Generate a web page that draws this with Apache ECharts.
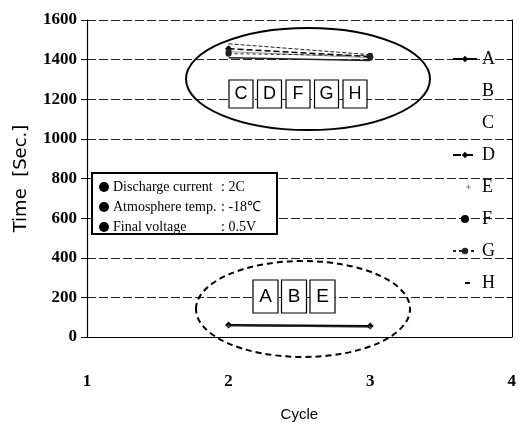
<!DOCTYPE html>
<html><head><meta charset="utf-8">
<script src="https://cdn.jsdelivr.net/npm/echarts@6/dist/echarts.min.js"></script>
<style>html,body{margin:0;padding:0;background:#fff}#c{width:519px;height:427px}</style>
</head><body><div id="c"></div>
<script>
// ---- data ----
const cycles = [2, 3];
const seriesNames = ['A','B','C','D','E','F','G','H'];
const valA = [60, 55];
const valB = [58, 52];
const valC = [1480, 1425];
const valD = [1455, 1415];
const valE = [56, 50];
const valF = [1440, 1410];
const valG = [1430, 1420];
const valH = [1410, 1395];
const yTicks = [0, 200, 400, 600, 800, 1000, 1200, 1400, 1600];
const xTicks = [1, 2, 3, 4];
const upperBoxes = ['C','D','F','G','H'];
const lowerBoxes = ['A','B','E'];
const conditions = [
  ['Discharge current', ': 2C'],
  ['Atmosphere temp.', ': -18℃'],
  ['Final voltage', ': 0.5V']
];

const values = {A: valA, B: valB, C: valC, D: valD, E: valE, F: valF, G: valG, H: valH};
const styles = {
  A: {line: {color:'#000', width:2, type:'solid'}, symbol:'diamond', size:7},
  B: {line: {color:'#111', width:1.5, type:'solid'}, symbol:'none', size:0},
  C: {line: {color:'#222', width:1, type:'dashed'}, symbol:'none', size:0},
  D: {line: {color:'#000', width:1.5, type:'dashed'}, symbol:'diamond', size:7},
  E: {line: {color:'#444', width:1, type:'dotted'}, symbol:'circle', size:3},
  F: {line: {color:'#222', width:1, type:'dotted'}, symbol:'circle', size:6},
  G: {line: {color:'#222', width:1, type:[3,3]}, symbol:'circle', size:6},
  H: {line: {color:'#222', width:1.5, type:'solid'}, symbol:'none', size:0}
};

const series = seriesNames.map(n => ({
  name: n, type: 'line',
  data: cycles.map((c, i) => [c, values[n][i]]),
  symbol: styles[n].symbol, symbolSize: styles[n].size,
  itemStyle: {color: styles[n].line.color},
  lineStyle: styles[n].line,
  animation: false
}));

// small icons padded to the full legend box with tiny corner dots
const pad = 'M0,0 L0.05,0 L0.05,0.05 Z M24,8 L24.05,8 L24.05,8.05 Z ';
const legendData = seriesNames.map(n => {
  const d = {name: n};
  if (n === 'B' || n === 'C') { d.itemStyle = {opacity: 0}; d.lineStyle = {opacity: 0}; }
  if (n === 'E') { d.icon = 'path://' + pad + 'M13,3.5 L18,3.5 L18,4.5 L13,4.5 Z M15,1.5 L16,1.5 L16,6.5 L15,6.5 Z'; d.itemStyle = {color:'#888'}; }
  if (n === 'F') { d.icon = 'circle'; d.itemStyle = {color:'#000'}; }
  if (n === 'H') { d.icon = 'path://' + pad + 'M12,3 L17,3 L17,5 L12,5 Z'; d.itemStyle = {color:'#000'}; }
  return d;
});

// graphics (annotations)
const graphics = [];
graphics.push({type:'ellipse', shape:{cx:308, cy:79, rx:122, ry:51}, style:{fill:'none', stroke:'#000', lineWidth:2}, z:10});
graphics.push({type:'ellipse', shape:{cx:303, cy:309, rx:107, ry:48}, style:{fill:'none', stroke:'#000', lineWidth:2, lineDash:[6,4]}, z:10});
upperBoxes.forEach((t, i) => {
  const x = 229 + i * 28.5;
  graphics.push({type:'rect', shape:{x:x, y:80, width:24, height:28}, style:{fill:'#fff', stroke:'#000', lineWidth:1.2}, z:11});
  graphics.push({type:'text', x:x+12, y:94, style:{text:t, font:'18px "Liberation Sans", Arial, sans-serif', fill:'#000', align:'center', verticalAlign:'middle'}, z:12});
});
lowerBoxes.forEach((t, i) => {
  const x = 253 + i * 28.5;
  graphics.push({type:'rect', shape:{x:x, y:280, width:25, height:33}, style:{fill:'#fff', stroke:'#000', lineWidth:1.2}, z:11});
  graphics.push({type:'text', x:x+12.5, y:297, style:{text:t, font:'19px "Liberation Sans", Arial, sans-serif', fill:'#000', align:'center', verticalAlign:'middle'}, z:12});
});
graphics.push({type:'rect', shape:{x:92, y:173, width:185, height:61}, style:{fill:'#fff', stroke:'#000', lineWidth:2}, z:11});
conditions.forEach((c, i) => {
  const y = 187 + i * 20;
  graphics.push({type:'circle', shape:{cx:104, cy:y, r:5}, style:{fill:'#000'}, z:12});
  graphics.push({type:'text', x:113, y:y, style:{text:c[0], font:'14px "Liberation Serif", "Times New Roman", serif', fill:'#000', verticalAlign:'middle'}, z:12});
  graphics.push({type:'text', x:221, y:y, style:{text:c[1], font:'14px "Liberation Serif", "Times New Roman", serif', fill:'#000', verticalAlign:'middle'}, z:12});
});

const chart = echarts.init(document.getElementById('c'), null, {renderer:'canvas'});
chart.setOption({
  animation: false,
  backgroundColor: '#fff',
  grid: {left: 87, right: 6, top: 20, bottom: 83},
  xAxis: {
    type: 'value', min: xTicks[0], max: xTicks[xTicks.length-1], interval: 1,
    name: 'Cycle', nameLocation: 'middle', nameGap: 70,
    nameTextStyle: {fontFamily: '"Liberation Sans Narrow", "Liberation Sans", sans-serif', fontSize: 15, color: '#000'},
    axisLine: {show: true, lineStyle: {color: '#000', width: 1.2}},
    axisTick: {show: false},
    splitLine: {show: false},
    axisLabel: {margin: 36, fontFamily: '"Liberation Serif", serif', fontWeight: 'bold', fontSize: 17, color: '#000'}
  },
  yAxis: [{
    type: 'value', min: yTicks[0], max: yTicks[yTicks.length-1], interval: 200,
    name: 'Time  [Sec.]', nameLocation: 'middle', nameGap: 57,
    nameTextStyle: {fontFamily: '"DejaVu Sans", sans-serif', fontSize: 18, color: '#000'},
    axisLine: {show: true, lineStyle: {color: '#000', width: 1.2}},
    axisTick: {show: true, length: 6, lineStyle: {color: '#000'}},
    axisLabel: {margin: 10, fontFamily: '"Liberation Serif", serif', fontWeight: 'bold', fontSize: 17, color: '#000', formatter: v => String(v)},
    splitLine: {show: true, lineStyle: {color: '#222', width: 1, type: [9, 3]}}
  }, {
    type: 'value', position: 'right', min: yTicks[0], max: yTicks[yTicks.length-1], interval: 200,
    axisLine: {show: true, lineStyle: {color: '#000', width: 1}},
    axisTick: {show: true, inside: true, length: 5, lineStyle: {color: '#000'}},
    axisLabel: {show: false}, splitLine: {show: false}
  }],
  legend: {
    orient: 'vertical', left: 447, top: 45,
    itemWidth: 24, itemHeight: 8, itemGap: 14,
    textStyle: {fontFamily: '"Liberation Serif", serif', fontSize: 18, lineHeight: 18, color: '#000'},
    data: legendData
  },
  graphic: graphics,
  series: series
});
</script></body></html>
